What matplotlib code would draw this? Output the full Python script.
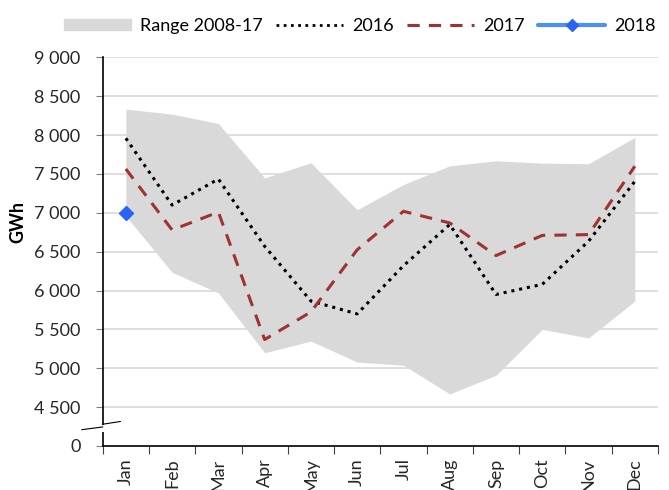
import numpy as np
import matplotlib
matplotlib.use("Agg")
from matplotlib import pyplot as plt
from matplotlib.lines import Line2D
from matplotlib.patches import Patch

plt.rcParams['font.family'] = ['Lato', 'DejaVu Sans']

# data (GWh)
months = ["Jan", "Feb", "Mar", "Apr", "May", "Jun", "Jul", "Aug", "Sep", "Oct", "Nov", "Dec"]
range_max = [8335, 8270, 8150, 7450, 7645, 7040, 7365, 7605, 7670, 7640, 7632, 7970]
range_min = [6960, 6235, 5970, 5200, 5350, 5080, 5040, 4670, 4910, 5500, 5390, 5865]
y2016 = [7960, 7100, 7435, 6570, 5865, 5700, 6320, 6850, 5950, 6080, 6635, 7405]
y2017 = [7565, 6780, 7010, 5370, 5725, 6525, 7020, 6870, 6450, 6710, 6720, 7600]
y2018 = [7000]

# tick values; the bottom of the axis (4000) is shown as "0" with a break mark
ytick_vals = [4000, 4500, 5000, 5500, 6000, 6500, 7000, 7500, 8000, 8500, 9000]
ytick_labels = ["0", "4 500", "5 000", "5 500", "6 000", "6 500", "7 000",
                "7 500", "8 000", "8 500", "9 000"]

fig = plt.figure(figsize=(6.69, 4.90), dpi=100)
ax = fig.add_axes([0.1535, 0.0898, 0.83, 0.793])

x = np.arange(len(months))
ax.fill_between(x, range_min, range_max, color="#d9d9d9", lw=0, zorder=1)
ax.plot(x, y2016, color="black", ls=(0, (1, 1.6)), lw=2.2, zorder=3)
ax.plot(x, y2017, color="#9e3330", ls=(0, (4, 3)), lw=2.2, zorder=3)
ax.plot(x[:len(y2018)], y2018, color="#4a90f5", lw=3, marker="D", ms=7,
        mfc="#2b63f5", mec="#2b63f5", zorder=4)

ax.set_xlim(-0.5, len(months) - 0.5)
ax.set_ylim(4000, 9000)
ax.set_yticks(ytick_vals)
ax.set_yticklabels(ytick_labels, fontsize=13, color="#262626")
for v in ytick_vals[1:]:
    ax.axhline(v, color="#d9d9d9", lw=1.2, zorder=0)

ax.set_xticks(x)
ax.set_xticklabels(months, rotation=90, fontsize=13, color="#262626")
ax.set_xticks(np.arange(len(months) + 1) - 0.5, minor=True)
ax.tick_params(axis="x", which="major", length=0, pad=9)
ax.tick_params(axis="x", which="minor", length=6, width=0.8, color="#404040")
ax.tick_params(axis="y", length=5, width=0.8, color="#808080", pad=11)

for s in ["top", "right"]:
    ax.spines[s].set_visible(False)
ax.spines["left"].set_linewidth(1.2)
ax.spines["bottom"].set_linewidth(1.2)

# axis break mark
ax.fill([-0.55, -0.45, -0.45, -0.55], [4270, 4270, 4180, 4180], color="white",
        clip_on=False, zorder=5, lw=0)
ax.plot([-0.95, -0.5], [4210, 4245], color="black", lw=0.8, clip_on=False, zorder=6)
ax.plot([-0.5, -0.12], [4280, 4315], color="black", lw=0.8, clip_on=False, zorder=6)

ax.set_ylabel("GWh", fontsize=13, fontweight="bold")
ax.yaxis.set_label_coords(-0.138, 0.576)

handles = [Patch(color="#d9d9d9"),
           Line2D([], [], color="black", ls=(0, (1, 1.6)), lw=2),
           Line2D([], [], color="#9e3330", ls=(0, (4, 3)), lw=2.2),
           Line2D([], [], color="#4a90f5", lw=3, marker="D", ms=6,
                  mfc="#2b63f5", mec="#2b63f5", solid_capstyle="round")]
labels = ["Range 2008-17", "2016", "2017", "2018"]
fig.legend(handles, labels, loc="center", bbox_to_anchor=(0.538, 0.947), ncol=4,
           frameon=False, fontsize=13, handlelength=3.7, handletextpad=0.5,
           columnspacing=0.75, handleheight=0.6)

fig.savefig("out.png", dpi=100)
